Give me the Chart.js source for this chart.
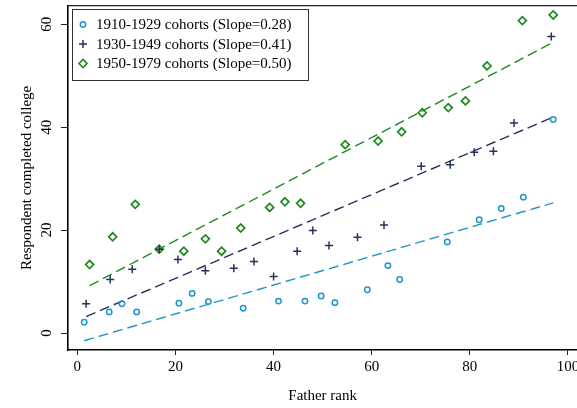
<!DOCTYPE html>
<html>
<head>
<meta charset="utf-8">
<script src="https://cdn.jsdelivr.net/npm/chart.js@4"></script>
<style>
  html, body { margin: 0; padding: 0; background: #fff; overflow: hidden; }
  #wrap { width: 577px; height: 408px; overflow: hidden; }
  canvas { display: block; }
</style>
</head>
<body>
<div id="wrap"><canvas id="myChart" width="583" height="408"></canvas></div>
<script>
// tick labels
var xTicks = [0, 20, 40, 60, 80, 100];
var yTicks = [0, 20, 40, 60];

// 1910-1929 cohorts
var xBlue = [1.4, 6.5, 9.1, 12.1, 20.7, 23.4, 26.7, 33.8, 41.0, 46.4, 49.7, 52.5, 59.1, 63.3, 65.7, 75.4, 81.9, 86.4, 90.9, 97.0];
var yBlue = [2.1, 4.1, 5.7, 4.1, 5.8, 7.7, 6.1, 4.8, 6.2, 6.2, 7.2, 5.9, 8.4, 13.1, 10.4, 17.7, 22.0, 24.2, 26.4, 41.5];
var fitBlueX = [1.4, 97.0];
var fitBlueY = [-1.5, 25.3];

// 1930-1949 cohorts
var xNavy = [1.8, 6.7, 11.2, 16.7, 20.5, 26.1, 31.9, 36.0, 40.0, 44.8, 48.0, 51.3, 57.1, 62.5, 70.1, 76.0, 80.9, 84.8, 89.0, 96.6];
var yNavy = [5.7, 10.4, 12.4, 16.3, 14.3, 12.1, 12.6, 13.9, 11.0, 15.9, 19.9, 17.0, 18.6, 21.0, 32.4, 32.7, 35.1, 35.3, 40.8, 57.6];
var fitNavyX = [1.8, 96.6];
var fitNavyY = [3.2, 41.8];

// 1950-1979 cohorts
var xGreen = [2.5, 7.2, 11.8, 16.7, 21.7, 26.1, 29.4, 33.3, 39.2, 42.3, 45.5, 54.6, 61.3, 66.1, 70.3, 75.6, 79.1, 83.5, 90.7, 97.0];
var yGreen = [13.3, 18.7, 25.0, 16.3, 15.9, 18.3, 15.9, 20.4, 24.4, 25.5, 25.2, 36.6, 37.3, 39.1, 42.8, 43.8, 45.1, 51.9, 60.7, 61.8];
var fitGreenX = [2.5, 97.0];
var fitGreenY = [9.2, 56.5];

var labels = [
    "1910-1929 cohorts (Slope=0.28)",
    "1930-1949 cohorts (Slope=0.41)",
    "1950-1979 cohorts (Slope=0.50)",
];

var BLUE = "#1f95cc";
var NAVY = "#26305e";
var GREEN = "#1e8a1e";
var FONT = "'Liberation Serif', 'Times New Roman', serif";

function pts(xs, ys) {
    return xs.map(function (x, i) { return { x: x, y: ys[i] }; });
}

function fitLine(xs, ys, color) {
    return {
        type: "line",
        data: pts(xs, ys),
        borderColor: color,
        borderWidth: 1.4,
        borderDash: [10, 5],
        pointRadius: 0,
        fill: false,
    };
}

// stata style legend box, drawn in the top left of the plot
var boxLegend = {
    id: "boxLegend",
    afterDraw: function (chart) {
        var ctx = chart.ctx;
        var left = 72.5, top = 9.5, w = 236, h = 71;
        ctx.save();
        ctx.fillStyle = "#fff";
        ctx.fillRect(left, top, w, h);
        ctx.strokeStyle = "#333";
        ctx.lineWidth = 1;
        ctx.strokeRect(left, top, w, h);
        ctx.font = "15px " + FONT;
        ctx.textBaseline = "middle";
        for (let i = 0; i < 3; i++) {
            var ds = chart.data.datasets[i];
            var y = 24.5 + i * 19.5;
            ctx.strokeStyle = ds.borderColor;
            ctx.lineWidth = ds.borderWidth;
            ctx.fillStyle = "rgba(0,0,0,0)";
            Chart.helpers.drawPoint(ctx, {
                pointStyle: ds.pointStyle,
                radius: ds.pointRadius,
                borderWidth: ds.borderWidth,
                rotation: 0,
            }, 83, y);
            ctx.fillStyle = "#000";
            ctx.fillText(ds.label, 96, y + 1);
        }
        // top frame line
        var a = chart.chartArea;
        ctx.strokeStyle = "#222";
        ctx.lineWidth = 1.2;
        ctx.beginPath();
        ctx.moveTo(a.left, a.top);
        ctx.lineTo(a.right, a.top);
        ctx.stroke();
        ctx.restore();
    },
};

var data = {
    datasets: [
        {
            label: labels[0],
            data: pts(xBlue, yBlue),
            borderColor: BLUE,
            backgroundColor: "rgba(0,0,0,0)",
            pointStyle: "circle",
            pointRadius: 2.7,
            borderWidth: 1.5,
        },
        {
            label: labels[1],
            data: pts(xNavy, yNavy),
            borderColor: NAVY,
            backgroundColor: "rgba(0,0,0,0)",
            pointStyle: "cross",
            pointRadius: 4,
            borderWidth: 1.5,
        },
        {
            label: labels[2],
            data: pts(xGreen, yGreen),
            borderColor: GREEN,
            backgroundColor: "rgba(0,0,0,0)",
            pointStyle: "rectRot",
            pointRadius: 4,
            borderWidth: 1.7,
        },
        fitLine(fitBlueX, fitBlueY, BLUE),
        fitLine(fitNavyX, fitNavyY, NAVY),
        fitLine(fitGreenX, fitGreenY, GREEN),
    ],
};

var config = {
    type: "scatter",
    data: data,
    options: {
        responsive: false,
        animation: false,
        layout: { padding: { left: 0, right: 0, top: 4, bottom: 0 } },
        plugins: {
            legend: { display: false },
            tooltip: { enabled: false },
        },
        scales: {
            x: {
                type: "linear",
                min: -1.9,
                max: 101.9,
                afterBuildTicks: function (scale) {
                    scale.ticks = xTicks.map(function (v) { return { value: v }; });
                },
                afterFit: function (scale) {
                    scale.height = 58;
                },
                grid: {
                    drawOnChartArea: false,
                    drawTicks: true,
                    tickLength: 5,
                    tickColor: "#222",
                    tickWidth: 1,
                },
                border: { display: true, color: "#000", width: 1.6 },
                ticks: {
                    color: "#000",
                    font: { family: FONT, size: 15 },
                    padding: 3,
                    maxRotation: 0,
                },
                title: {
                    display: true,
                    text: "Father rank",
                    color: "#000",
                    font: { family: FONT, size: 15 },
                    padding: { top: 0, bottom: 3 },
                },
            },
            y: {
                type: "linear",
                min: -3.3,
                max: 63.6,
                afterBuildTicks: function (scale) {
                    scale.ticks = yTicks.map(function (v) { return { value: v }; });
                },
                afterFit: function (scale) {
                    scale.width = 68;
                    scale.paddingTop = 0;
                    scale.paddingBottom = 0;
                },
                grid: {
                    drawOnChartArea: false,
                    drawTicks: true,
                    tickLength: 7,
                    tickColor: "#222",
                    tickWidth: 1,
                },
                border: { display: true, color: "#000", width: 1.6 },
                ticks: {
                    color: "#000",
                    font: { family: FONT, size: 15 },
                    padding: 6,
                    minRotation: 90,
                    maxRotation: 90,
                    crossAlign: "center",
                },
                title: {
                    display: true,
                    text: "Respondent completed college",
                    color: "#000",
                    font: { family: FONT, size: 15 },
                    padding: { top: 18, bottom: 0 },
                },
            },
        },
    },
    plugins: [boxLegend],
};

var myChart = new Chart(document.getElementById("myChart"), config);
</script>
</body>
</html>
